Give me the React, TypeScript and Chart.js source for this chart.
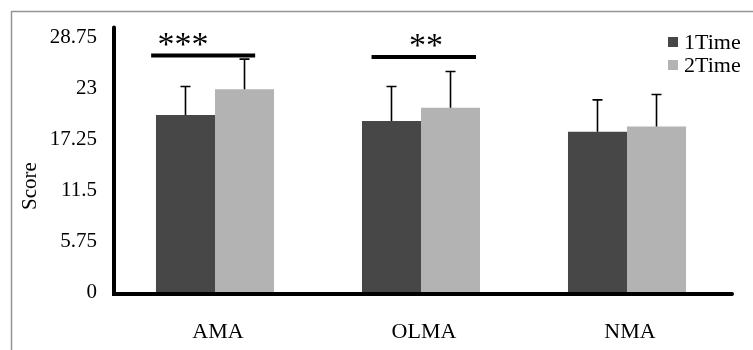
import React, { useEffect, useRef } from "react";
import { Chart, registerables } from "chart.js";

Chart.register(...registerables);

// ---- data ----
const categories = ["AMA", "OLMA", "NMA"];
const seriesLabels = ["1Time", "2Time"];
const time1Values = [20.0, 19.3, 18.1];
const time2Values = [22.9, 20.8, 18.7];
const time1Errors = [3.2, 3.9, 3.6];
const time2Errors = [3.4, 4.1, 3.6];
const yTickValues = [0, 5.75, 11.5, 17.25, 23, 28.75];
const yAxisMax = 29.86;
const sigMarks = ["***", "**", ""];
const sigLineValue = [26.7, 26.55, 0];
// annotation extents in category units
const sigLineFrom = [-0.31, 0.76, 0];
const sigLineTo = [0.195, 1.267, 0];
const sigMarkAt = [-0.155, 1.024, 0];

const seriesColors = ["#474747", "#b3b3b3"];
const errorSets = [time1Errors, time2Errors];
const FONT = "'Liberation Serif', 'Times New Roman', serif";

const decorPlugin = {
  id: "decor",
  beforeDraw(chart: any) {
    const ctx = chart.ctx;
    ctx.save();
    ctx.strokeStyle = "#959595";
    ctx.lineWidth = 1.5;
    ctx.strokeRect(11.5, 11.5, 900, 500);
    ctx.restore();
  },
  afterDatasetsDraw(chart: any) {
    const ctx = chart.ctx;
    const { left, right, top, bottom } = chart.chartArea;
    const xs = chart.scales.x;
    const ys = chart.scales.y;
    ctx.save();
    // error bars
    ctx.strokeStyle = "#000";
    ctx.lineWidth = 1.6;
    chart.data.datasets.forEach((ds: any, i: number) => {
      const meta = chart.getDatasetMeta(i);
      meta.data.forEach((bar: any, j: number) => {
        const v = ds.data[j];
        const e = errorSets[i][j];
        const yt = ys.getPixelForValue(v + e);
        ctx.beginPath();
        ctx.moveTo(bar.x, bar.y);
        ctx.lineTo(bar.x, yt);
        ctx.moveTo(bar.x - 5, yt);
        ctx.lineTo(bar.x + 5, yt);
        ctx.stroke();
      });
    });
    // axes
    ctx.lineWidth = 4;
    ctx.lineCap = "round";
    ctx.beginPath();
    ctx.moveTo(left + 2, top);
    ctx.lineTo(left + 2, bottom + 2);
    ctx.lineTo(right + 2, bottom + 2);
    ctx.stroke();
    // significance
    ctx.lineCap = "butt";
    ctx.fillStyle = "#000";
    ctx.font = `34px ${FONT}`;
    ctx.textAlign = "center";
    ctx.textBaseline = "alphabetic";
    sigMarks.forEach((m, k) => {
      if (!m) return;
      const y = ys.getPixelForValue(sigLineValue[k]);
      ctx.beginPath();
      ctx.moveTo(xs.getPixelForValue(sigLineFrom[k]), y);
      ctx.lineTo(xs.getPixelForValue(sigLineTo[k]), y);
      ctx.stroke();
      const mt = ctx.measureText(m);
      const asc = mt.actualBoundingBoxAscent;
      const desc = mt.actualBoundingBoxDescent;
      const targetCenter = y - 16;
      const baseline = targetCenter + (asc - desc) / 2;
      ctx.fillText(m, xs.getPixelForValue(sigMarkAt[k]), baseline);
    });
    // legend
    ctx.font = `22px ${FONT}`;
    ctx.textAlign = "left";
    ctx.textBaseline = "middle";
    seriesLabels.forEach((lab, i) => {
      const cy = 42 + i * 23;
      ctx.fillStyle = seriesColors[i];
      ctx.fillRect(668, cy - 5, 10, 10);
      ctx.fillStyle = "#000";
      ctx.fillText(lab, 684, cy + 1);
    });
    // y title
    ctx.save();
    ctx.translate(30, 186);
    ctx.rotate(-Math.PI / 2);
    ctx.textAlign = "center";
    ctx.textBaseline = "middle";
    ctx.font = `21px ${FONT}`;
    ctx.fillText("Score", 0, 0);
    ctx.restore();
    ctx.restore();
  },
};

export default function App() {
  const ref = useRef<HTMLCanvasElement | null>(null);
  useEffect(() => {
    if (!ref.current) return;
    const chart = new Chart(ref.current, {
      type: "bar",
      data: {
        labels: categories,
        datasets: [
          { label: seriesLabels[0], data: time1Values, backgroundColor: seriesColors[0] },
          { label: seriesLabels[1], data: time2Values, backgroundColor: seriesColors[1] },
        ],
      },
      options: {
        responsive: false,
        animation: false,
        layout: { padding: { top: 22, right: 23, left: 0, bottom: 0 } },
        plugins: { legend: { display: false }, tooltip: { enabled: false } },
        datasets: { bar: { barPercentage: 1, categoryPercentage: 0.573 } },
        scales: {
          x: {
            grid: { display: false, drawTicks: false },
            border: { display: false },
            ticks: { color: "#000", font: { family: FONT, size: 22 }, padding: 27, labelOffset: 3 },
            afterFit: (s: any) => { s.height = 58; },
          },
          y: {
            min: 0,
            max: yAxisMax,
            grid: { display: false, drawTicks: false },
            border: { display: false },
            afterBuildTicks: (s: any) => { s.ticks = yTickValues.map((v) => ({ value: v })); },
            ticks: {
              color: "#000",
              font: { family: FONT, size: 21 },
              padding: 15,
              callback: (v: any) => String(v),
            },
            afterFit: (s: any) => { s.width = 112; },
          },
        },
      },
      plugins: [decorPlugin],
    });
    return () => chart.destroy();
  }, []);
  return (
    <div style={{ position: "fixed", left: 0, top: 0, width: 753, height: 350, background: "#fff" }}>
      <canvas ref={ref} width={753} height={350} style={{ display: "block" }} />
    </div>
  );
}
